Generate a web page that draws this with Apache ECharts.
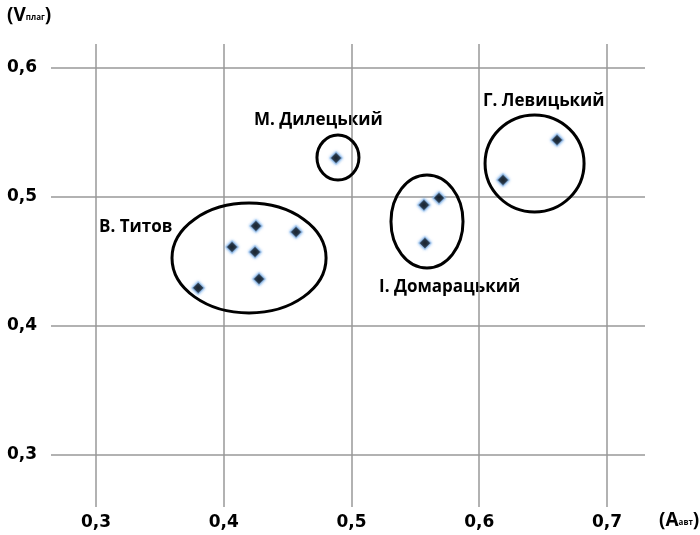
<!DOCTYPE html>
<html><head><meta charset="utf-8">
<script src="https://cdn.jsdelivr.net/npm/echarts@6/dist/echarts.min.js"></script>
<style>html,body{margin:0;padding:0;background:#fff}#c{width:700px;height:535px}</style>
</head><body><div id="c"></div>
<script>
// Data (A_авт, V_плаг)
const titovX = [0.380, 0.4065, 0.4252, 0.4245, 0.4276, 0.4566];
const titovY = [0.4295, 0.4612, 0.4775, 0.4574, 0.4364, 0.4729];
const dyletskyX = [0.4879];
const dyletskyY = [0.5302];
const domaratskyX = [0.5685, 0.5567, 0.5575];
const domaratskyY = [0.4992, 0.4938, 0.4643];
const levytskyX = [0.6609, 0.6186];
const levytskyY = [0.5442, 0.5132];
const xTicks = [0.3, 0.4, 0.5, 0.6, 0.7];
const yTicks = [0.3, 0.4, 0.5, 0.6];
// group ellipses in data units: centre x, centre y, radius x, radius y
const ellCx = [0.4198, 0.4894, 0.5591, 0.6433];
const ellCy = [0.4527, 0.5306, 0.4810, 0.5260];
const ellRx = [0.0603, 0.01644, 0.0282, 0.03875];
const ellRy = [0.0426, 0.01744, 0.0360, 0.0376];
const groupNames = ['В. Титов', 'М. Дилецький', 'І. Домарацький', 'Г. Левицький'];

const zip = (xs, ys) => xs.map((x, i) => [x, ys[i]]);
const points = [].concat(zip(titovX, titovY), zip(dyletskyX, dyletskyY), zip(domaratskyX, domaratskyY), zip(levytskyX, levytskyY));
const ellData = ellCx.map((c, i) => [c, ellCy[i], ellRx[i], ellRy[i]]);

const FONT = 'DejaVu Sans';
const LFONT = 'bold 17px "Open Sans"';
const fmt = v => String(+v.toFixed(2)).replace('.', ',');
const chart = echarts.init(document.getElementById('c'), null, {renderer: 'canvas'});
const rich = {
  b: {fontFamily: 'Open Sans', fontWeight: 'bold', fontSize: 19, fill: '#000', verticalAlign: 'bottom'},
  s: {fontFamily: 'Open Sans', fontWeight: 'bold', fontSize: 8, fill: '#000', verticalAlign: 'bottom', padding: [0, 0, 3, 0]}
};
chart.setOption({
  animation: false,
  grid: {left: 51, right: 55, top: 44, bottom: 28},
  xAxis: {
    type: 'value', min: 0.26478, max: 0.72975,
    axisLine: {show: false},
    axisTick: {show: false, customValues: xTicks},
    axisLabel: {customValues: xTicks, formatter: fmt, margin: 7, color: '#000', fontFamily: FONT, fontWeight: 'bold', fontSize: 17},
    splitLine: {show: true, lineStyle: {color: '#999', width: 1.5}}
  },
  yAxis: {
    type: 'value', min: 0.25969, max: 0.6186,
    axisLine: {show: false},
    axisTick: {show: false, customValues: yTicks},
    axisLabel: {customValues: yTicks, formatter: fmt, margin: 14, color: '#000', fontFamily: FONT, fontWeight: 'bold', fontSize: 17},
    splitLine: {show: true, lineStyle: {color: '#999', width: 1.5}}
  },
  series: [
    {
      type: 'scatter', data: points, symbol: 'diamond', symbolSize: 12,
      itemStyle: {color: '#000', borderColor: '#9cc3ee', borderWidth: 1.2, shadowBlur: 3, shadowColor: 'rgba(80,150,230,0.8)'},
      z: 3
    },
    {
      type: 'custom', data: ellData, z: 2, silent: true,
      renderItem: function (params, api) {
        const c = api.coord([api.value(0), api.value(1)]);
        const s = api.size([api.value(2), api.value(3)]);
        return {type: 'ellipse', shape: {cx: c[0], cy: c[1], rx: s[0], ry: s[1]},
          style: {fill: null, stroke: '#000', lineWidth: 3}};
      }
    }
  ],
  graphic: [
    {type: 'text', left: 99, top: 219, style: {text: groupNames[0], font: LFONT, fill: '#000'}},
    {type: 'text', left: 254, top: 112, style: {text: groupNames[1], font: LFONT, fill: '#000'}},
    {type: 'text', left: 379, top: 279, style: {text: groupNames[2], font: LFONT, fill: '#000'}},
    {type: 'text', left: 483, top: 93, style: {text: groupNames[3], font: LFONT, fill: '#000'}},
    {type: 'text', left: 7, top: 6, style: {text: '{b|(V}{s|плаг}{b|)}', rich: rich}},
    {type: 'text', left: 659, top: 511, style: {text: '{b|(A}{s|авт}{b|)}', rich: rich}}
  ]
});
</script></body></html>
